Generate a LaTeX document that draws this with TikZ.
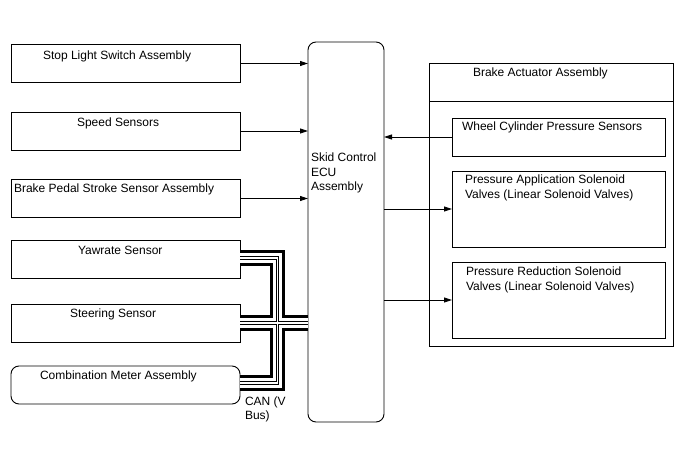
\documentclass[tikz,border=0pt]{standalone}
\usepackage{fontspec}
\setmainfont{Liberation Sans}
\usetikzlibrary{arrows.meta}
\begin{document}
\begin{tikzpicture}[x=1pt,y=-1pt,
  box/.style={draw, line width=0.9pt, inner sep=0pt, outer sep=0pt, minimum width=229pt, minimum height=38pt},
  rbox/.style={draw, line width=0.9pt, inner sep=0pt, outer sep=0pt, minimum width=213pt},
  lbl/.style={inner sep=0pt, outer sep=0pt, anchor=base west, font=\fontsize{12pt}{14.5pt}\selectfont},
  mlbl/.style={inner sep=0pt, outer sep=0pt, anchor=north west, align=left, font=\fontsize{12pt}{14.5pt}\selectfont},
  sig/.style={line width=0.9pt, -{Triangle[length=8pt,width=5pt]}},
]
\useasboundingbox (0,0) rectangle (688,463);

% left boxes
\node[box] (stop) at (125.5,63.5) {};
\node[box] (speed) at (125.5,131) {};
\node[box] (brake) at (125.5,198.5) {};
\node[box] (yaw) at (125.5,259) {};
\node[box] (steer) at (125.5,323) {};
\node[box, rounded corners=8pt] (comb) at (125.5,385) {};

\node[lbl] (tstop) at (43,59) {Stop Light Switch Assembly};
\node[lbl] (tspeed) at (77,126) {Speed Sensors};
\node[lbl] (tbrake) at (14,192) {Brake Pedal Stroke Sensor Assembly};
\node[lbl] (tyaw) at (78,254) {Yawrate Sensor};
\node[lbl] (tsteer) at (70,317) {Steering Sensor};
\node[lbl] (tcomb) at (40,379) {Combination Meter Assembly};

% ECU
\node[draw, line width=0.9pt, rounded corners=8pt, inner sep=0pt, outer sep=0pt,
      minimum width=76pt, minimum height=380pt] (ecu) at (346,232) {};
\node[mlbl] (tecu) at (311,153.3) {Skid Control\\ECU\\Assembly};

% brake actuator
\node[draw, line width=0.9pt, inner sep=0pt, outer sep=0pt,
      minimum width=244pt, minimum height=283pt] (act) at (551,204.5) {};
\draw[line width=0.9pt] ([yshift=-38.5pt]act.north west) -- ([yshift=-38.5pt]act.north east);
\node[lbl] (tact) at (473,76) {Brake Actuator Assembly};

\node[rbox, minimum height=38pt] (wcps) at (558.5,137) {};
\node[rbox, minimum height=76pt] (pa) at (558.5,209) {};
\node[rbox, minimum height=76pt] (pr) at (558.5,300) {};
\node[lbl] (twcps) at (462,130) {Wheel Cylinder Pressure Sensors};
\node[mlbl] (tpa) at (465,175.3) {Pressure Application Solenoid\\Valves (Linear Solenoid Valves)};
\node[mlbl] (tpr) at (466,267.3) {Pressure Reduction Solenoid\\Valves (Linear Solenoid Valves)};

% signal arrows
\draw[sig] (stop.east) -- (stop.east -| ecu.west);
\draw[sig] (speed.east) -- (speed.east -| ecu.west);
\draw[sig] (brake.east) -- (brake.east -| ecu.west);
\draw[sig] (wcps.west) -- (wcps.west -| ecu.east);
\draw[sig] (ecu.east |- pa.west) -- (pa.west);
\draw[sig] (ecu.east |- pr.west) -- (pr.west);

% CAN bus cable
\coordinate (j) at (277.5,323);
\foreach \w/\c in {15.5/black,9.5/white,3.4/black,1.2/white}{
  \draw[line width=\w pt, draw=\c, line join=miter, line cap=butt]
    ([yshift=1pt]yaw.east) -| (j) |- ([yshift=2pt]comb.east);
  \draw[line width=\w pt, draw=\c, line join=miter, line cap=butt]
    (steer.east) -- (steer.east -| ecu.west);
}
\node[mlbl, font=\fontsize{12pt}{13.5pt}\selectfont] (tcan) at (245,397.3) {CAN (V\\Bus)};
\end{tikzpicture}
\end{document}
